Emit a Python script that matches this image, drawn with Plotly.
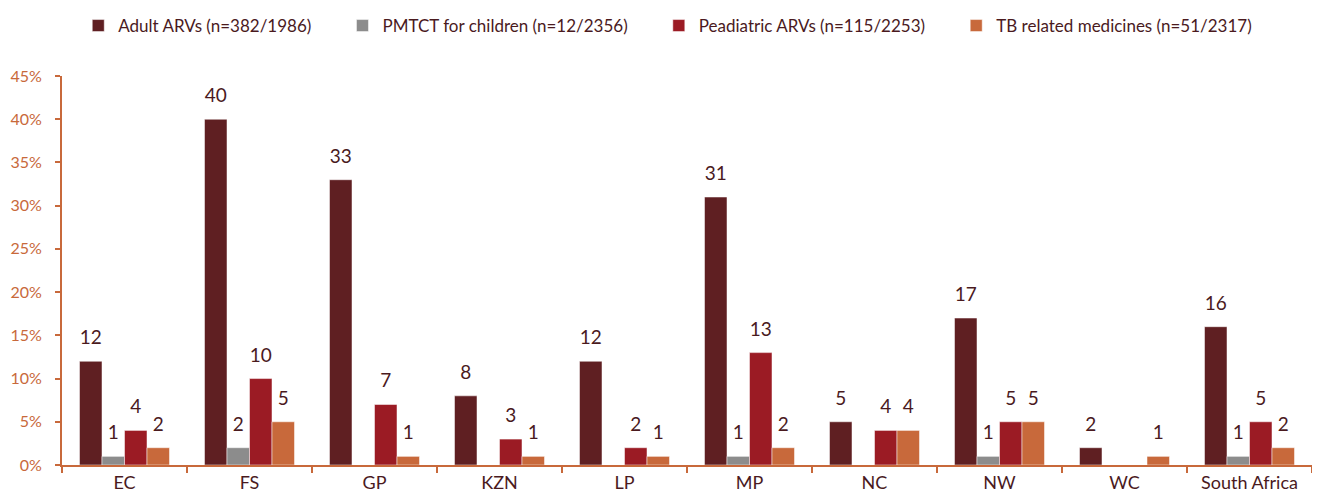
import plotly.graph_objects as go

categories = ["EC", "FS", "GP", "KZN", "LP", "MP", "NC", "NW", "WC", "South Africa"]
adult_arvs = [12, 40, 33, 8, 12, 31, 5, 17, 2, 16]
pmtct_children = [1, 2, 0, 0, 0, 1, 0, 1, 0, 1]
paed_arvs = [4, 10, 7, 3, 2, 13, 4, 5, 0, 5]
tb_meds = [2, 5, 1, 1, 1, 2, 4, 5, 1, 2]

series = [
    ("Adult ARVs (n=382/1986)", adult_arvs, "#5f1f22"),
    ("PMTCT for children (n=12/2356)", pmtct_children, "#8c8c8c"),
    ("Peadiatric ARVs (n=115/2253)", paed_arvs, "#9b1b24"),
    ("TB related medicines (n=51/2317)", tb_meds, "#c8693b"),
]

FONT = "Lato, 'Open Sans', sans-serif"
TXT = "#4a1a1e"
AX = "#c8693b"
PAD = "\u00a0" * 6

fig = go.Figure()
for i, (name, vals, col) in enumerate(series):
    fig.add_trace(go.Bar(
        name=name + PAD, x=categories, y=vals, offsetgroup=str(i),
        marker=dict(color=col, line=dict(color="white", width=0.5)),
    ))
for i, (name, vals, col) in enumerate(series):
    fig.add_trace(go.Scatter(
        x=categories, y=vals, offsetgroup=str(i), mode="markers+text",
        text=[(str(v) if v else "") for v in vals],
        textposition="top center", showlegend=False, hoverinfo="skip",
        marker=dict(size=18, color="rgba(0,0,0,0)"),
        textfont=dict(family=FONT, size=19, color=TXT),
        cliponaxis=False,
    ))

fig.update_layout(
    barmode="group", bargap=0.28, bargroupgap=0,
    scattermode="group", scattergap=0.28,
    width=1312, height=495,
    margin=dict(l=54, r=8, t=68, b=38, autoexpand=False),
    plot_bgcolor="white", paper_bgcolor="white",
    font=dict(family=FONT, size=16, color=TXT),
    legend=dict(orientation="h", x=0.495, xanchor="center", y=1.0, yanchor="top",
                yref="container", font=dict(size=17, color=TXT),
                itemclick=False, traceorder="normal"),
    xaxis=dict(showline=True, linecolor=AX, linewidth=2, ticks="outside",
               tickson="boundaries", tickcolor=AX, ticklen=6, tickwidth=2,
               tickfont=dict(family=FONT, size=18, color=TXT), showgrid=False,
               automargin=False),
    yaxis=dict(range=[0, 45], dtick=5, ticksuffix="%", showline=True, linecolor=AX,
               linewidth=2, ticks="outside", tickcolor=AX, ticklen=5, tickwidth=2,
               ticklabelstandoff=10,
               tickfont=dict(family=FONT, size=16, color=AX), showgrid=False,
               zeroline=False, automargin=False),
)

fig.write_html("out.html")
